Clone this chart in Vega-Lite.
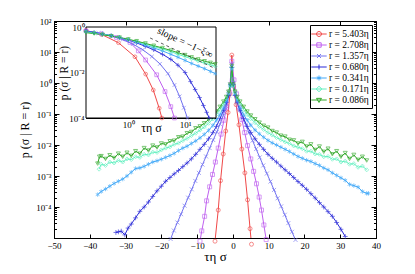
{
  "$schema": "https://vega.github.io/schema/vega-lite/v6.json",
  "autosize": "none",
  "padding": {"left": 54, "top": 21, "right": 39, "bottom": 36},
  "width": 322,
  "height": 217,
  "config": {
    "font": "Liberation Serif",
    "view": {"stroke": "black", "strokeWidth": 1},
    "axis": {"grid": false, "domainColor": "black", "tickColor": "black", "labelColor": "black", "titleColor": "black",
      "labelFont": "Liberation Serif", "titleFont": "Liberation Serif", "labelFontSize": 9, "titleFontSize": 12,
      "titleFontWeight": "normal", "labelOverlap": false, "labelFlush": false},
    "point": {"filled": false, "size": 16, "strokeWidth": 0.9, "clip": true}
  },
  "datasets": {
    "main": [
      {"r": "r = 5.403η", "x": -5.0, "p": 7.9e-6}, {"r": "r = 5.403η", "x": -4.1, "p": 7.94e-5}, {"r": "r = 5.403η", "x": -3.45, "p": 7.08e-4}, {"r": "r = 5.403η", "x": -2.7, "p": 5.13e-3}, {"r": "r = 5.403η", "x": -2.0, "p": 0.0282}, {"r": "r = 5.403η", "x": -1.35, "p": 0.112}, {"r": "r = 5.403η", "x": -0.8, "p": 0.447}, {"r": "r = 5.403η", "x": -0.3, "p": 7.94}, {"r": "r = 5.403η", "x": 0.2, "p": 0.794}, {"r": "r = 5.403η", "x": 0.9, "p": 0.2}, {"r": "r = 5.403η", "x": 1.7, "p": 0.0447}, {"r": "r = 5.403η", "x": 2.5, "p": 7.41e-3}, {"r": "r = 5.403η", "x": 3.35, "p": 1.26e-3}, {"r": "r = 5.403η", "x": 4.1, "p": 1.7e-4}, {"r": "r = 5.403η", "x": 4.8, "p": 2.0e-5}, {"r": "r = 5.403η", "x": 5.2, "p": 6.3e-6},

      {"r": "r = 2.708η", "x": -9.2, "p": 7.9e-6}, {"r": "r = 2.708η", "x": -8.7, "p": 1.7e-5}, {"r": "r = 2.708η", "x": -7.9, "p": 5.0e-5}, {"r": "r = 2.708η", "x": -7.35, "p": 1.58e-4}, {"r": "r = 2.708η", "x": -6.5, "p": 4.47e-4}, {"r": "r = 2.708η", "x": -5.7, "p": 1.12e-3}, {"r": "r = 2.708η", "x": -4.9, "p": 2.82e-3}, {"r": "r = 2.708η", "x": -4.1, "p": 7.94e-3}, {"r": "r = 2.708η", "x": -3.3, "p": 0.0224}, {"r": "r = 2.708η", "x": -2.5, "p": 0.0631}, {"r": "r = 2.708η", "x": -1.7, "p": 0.166}, {"r": "r = 2.708η", "x": -1.0, "p": 0.501}, {"r": "r = 2.708η", "x": -0.3, "p": 5.01}, {"r": "r = 2.708η", "x": 0.3, "p": 1.26}, {"r": "r = 2.708η", "x": 1.0, "p": 0.447}, {"r": "r = 2.708η", "x": 1.7, "p": 0.166}, {"r": "r = 2.708η", "x": 2.5, "p": 0.0661}, {"r": "r = 2.708η", "x": 3.3, "p": 0.0251}, {"r": "r = 2.708η", "x": 4.1, "p": 9.55e-3}, {"r": "r = 2.708η", "x": 5.0, "p": 3.55e-3}, {"r": "r = 2.708η", "x": 5.8, "p": 1.41e-3}, {"r": "r = 2.708η", "x": 6.6, "p": 5.62e-4}, {"r": "r = 2.708η", "x": 7.35, "p": 2.09e-4}, {"r": "r = 2.708η", "x": 8.0, "p": 7.94e-5}, {"r": "r = 2.708η", "x": 8.66, "p": 2.63e-5}, {"r": "r = 2.708η", "x": 9.3, "p": 8.9e-6},

      {"r": "r = 1.357η", "x": -17.4, "p": 9.3e-6}, {"r": "r = 1.357η", "x": -16.5, "p": 1.74e-5}, {"r": "r = 1.357η", "x": -15.5, "p": 3.16e-5}, {"r": "r = 1.357η", "x": -14.5, "p": 5.89e-5}, {"r": "r = 1.357η", "x": -13.5, "p": 1.1e-4}, {"r": "r = 1.357η", "x": -12.5, "p": 2.0e-4}, {"r": "r = 1.357η", "x": -11.5, "p": 3.72e-4}, {"r": "r = 1.357η", "x": -10.5, "p": 6.92e-4}, {"r": "r = 1.357η", "x": -9.5, "p": 1.26e-3}, {"r": "r = 1.357η", "x": -8.5, "p": 2.34e-3}, {"r": "r = 1.357η", "x": -7.5, "p": 4.27e-3}, {"r": "r = 1.357η", "x": -6.5, "p": 7.94e-3}, {"r": "r = 1.357η", "x": -5.5, "p": 0.0145}, {"r": "r = 1.357η", "x": -4.5, "p": 0.0263}, {"r": "r = 1.357η", "x": -3.6, "p": 0.0468}, {"r": "r = 1.357η", "x": -2.7, "p": 0.0891}, {"r": "r = 1.357η", "x": -1.9, "p": 0.178}, {"r": "r = 1.357η", "x": -1.1, "p": 0.398}, {"r": "r = 1.357η", "x": -0.7, "p": 0.891}, {"r": "r = 1.357η", "x": -0.3, "p": 3.98}, {"r": "r = 1.357η", "x": 0.1, "p": 1.0}, {"r": "r = 1.357η", "x": 0.6, "p": 0.447}, {"r": "r = 1.357η", "x": 1.2, "p": 0.24}, {"r": "r = 1.357η", "x": 1.9, "p": 0.132}, {"r": "r = 1.357η", "x": 2.7, "p": 0.0794}, {"r": "r = 1.357η", "x": 3.6, "p": 0.0447}, {"r": "r = 1.357η", "x": 4.5, "p": 0.0251}, {"r": "r = 1.357η", "x": 5.5, "p": 0.0138}, {"r": "r = 1.357η", "x": 6.5, "p": 7.41e-3}, {"r": "r = 1.357η", "x": 7.5, "p": 3.98e-3}, {"r": "r = 1.357η", "x": 8.5, "p": 2.19e-3}, {"r": "r = 1.357η", "x": 9.5, "p": 1.2e-3}, {"r": "r = 1.357η", "x": 10.5, "p": 6.61e-4}, {"r": "r = 1.357η", "x": 11.5, "p": 3.55e-4}, {"r": "r = 1.357η", "x": 12.5, "p": 1.91e-4}, {"r": "r = 1.357η", "x": 13.5, "p": 1.05e-4}, {"r": "r = 1.357η", "x": 14.5, "p": 5.62e-5}, {"r": "r = 1.357η", "x": 15.5, "p": 3.02e-5}, {"r": "r = 1.357η", "x": 16.5, "p": 1.58e-5}, {"r": "r = 1.357η", "x": 17.5, "p": 8.7e-6},

      {"r": "r = 0.680η", "x": -32.7, "p": 1.51e-5}, {"r": "r = 0.680η", "x": -32.0, "p": 1.58e-5}, {"r": "r = 0.680η", "x": -31.2, "p": 1.66e-5}, {"r": "r = 0.680η", "x": -30.2, "p": 1.26e-5}, {"r": "r = 0.680η", "x": -29.3, "p": 2.09e-5}, {"r": "r = 0.680η", "x": -28.4, "p": 2.82e-5}, {"r": "r = 0.680η", "x": -27.2, "p": 4.47e-5}, {"r": "r = 0.680η", "x": -26.0, "p": 7.24e-5}, {"r": "r = 0.680η", "x": -24.8, "p": 1.0e-4}, {"r": "r = 0.680η", "x": -23.6, "p": 1.45e-4}, {"r": "r = 0.680η", "x": -22.4, "p": 2.19e-4}, {"r": "r = 0.680η", "x": -21.2, "p": 3.31e-4}, {"r": "r = 0.680η", "x": -20.0, "p": 4.68e-4}, {"r": "r = 0.680η", "x": -18.8, "p": 6.76e-4}, {"r": "r = 0.680η", "x": -17.6, "p": 8.91e-4}, {"r": "r = 0.680η", "x": -16.4, "p": 1.17e-3}, {"r": "r = 0.680η", "x": -15.2, "p": 1.51e-3}, {"r": "r = 0.680η", "x": -14.0, "p": 2.0e-3}, {"r": "r = 0.680η", "x": -12.8, "p": 2.63e-3}, {"r": "r = 0.680η", "x": -11.6, "p": 3.55e-3}, {"r": "r = 0.680η", "x": -10.4, "p": 5.01e-3}, {"r": "r = 0.680η", "x": -9.2, "p": 7.24e-3}, {"r": "r = 0.680η", "x": -8.0, "p": 0.0105}, {"r": "r = 0.680η", "x": -6.8, "p": 0.0158}, {"r": "r = 0.680η", "x": -5.6, "p": 0.0251}, {"r": "r = 0.680η", "x": -4.6, "p": 0.0398}, {"r": "r = 0.680η", "x": -3.6, "p": 0.0708}, {"r": "r = 0.680η", "x": -2.6, "p": 0.132}, {"r": "r = 0.680η", "x": -1.8, "p": 0.24}, {"r": "r = 0.680η", "x": -1.2, "p": 0.398}, {"r": "r = 0.680η", "x": -0.7, "p": 0.891}, {"r": "r = 0.680η", "x": -0.3, "p": 3.16}, {"r": "r = 0.680η", "x": 0.1, "p": 0.891}, {"r": "r = 0.680η", "x": 0.6, "p": 0.398}, {"r": "r = 0.680η", "x": 1.2, "p": 0.24}, {"r": "r = 0.680η", "x": 2.0, "p": 0.132}, {"r": "r = 0.680η", "x": 3.0, "p": 0.0708}, {"r": "r = 0.680η", "x": 4.0, "p": 0.0398}, {"r": "r = 0.680η", "x": 5.0, "p": 0.0251}, {"r": "r = 0.680η", "x": 6.2, "p": 0.0158}, {"r": "r = 0.680η", "x": 7.4, "p": 0.0105}, {"r": "r = 0.680η", "x": 8.6, "p": 7.24e-3}, {"r": "r = 0.680η", "x": 9.8, "p": 5.01e-3}, {"r": "r = 0.680η", "x": 11.0, "p": 3.72e-3}, {"r": "r = 0.680η", "x": 12.2, "p": 2.82e-3}, {"r": "r = 0.680η", "x": 13.4, "p": 2.09e-3}, {"r": "r = 0.680η", "x": 14.6, "p": 1.58e-3}, {"r": "r = 0.680η", "x": 15.8, "p": 1.2e-3}, {"r": "r = 0.680η", "x": 17.0, "p": 8.91e-4}, {"r": "r = 0.680η", "x": 18.2, "p": 6.61e-4}, {"r": "r = 0.680η", "x": 19.4, "p": 5.01e-4}, {"r": "r = 0.680η", "x": 20.6, "p": 3.72e-4}, {"r": "r = 0.680η", "x": 21.8, "p": 2.69e-4}, {"r": "r = 0.680η", "x": 23.0, "p": 1.95e-4}, {"r": "r = 0.680η", "x": 24.2, "p": 1.38e-4}, {"r": "r = 0.680η", "x": 25.4, "p": 1.0e-4}, {"r": "r = 0.680η", "x": 26.6, "p": 7.08e-5}, {"r": "r = 0.680η", "x": 27.8, "p": 5.01e-5}, {"r": "r = 0.680η", "x": 29.0, "p": 3.16e-5}, {"r": "r = 0.680η", "x": 30.2, "p": 1.91e-5}, {"r": "r = 0.680η", "x": 31.4, "p": 1.12e-5},

      {"r": "r = 0.341η", "x": -37.8, "p": 2.51e-4}, {"r": "r = 0.341η", "x": -36.8, "p": 3.16e-4}, {"r": "r = 0.341η", "x": -35.6, "p": 3.8e-4}, {"r": "r = 0.341η", "x": -34.4, "p": 4.68e-4}, {"r": "r = 0.341η", "x": -33.2, "p": 5.75e-4}, {"r": "r = 0.341η", "x": -32.0, "p": 6.76e-4}, {"r": "r = 0.341η", "x": -30.8, "p": 7.94e-4}, {"r": "r = 0.341η", "x": -29.6, "p": 1.0e-3}, {"r": "r = 0.341η", "x": -28.4, "p": 1.32e-3}, {"r": "r = 0.341η", "x": -27.2, "p": 1.74e-3}, {"r": "r = 0.341η", "x": -26.0, "p": 1.82e-3}, {"r": "r = 0.341η", "x": -24.8, "p": 2.04e-3}, {"r": "r = 0.341η", "x": -23.6, "p": 2.4e-3}, {"r": "r = 0.341η", "x": -22.4, "p": 2.82e-3}, {"r": "r = 0.341η", "x": -21.2, "p": 3.09e-3}, {"r": "r = 0.341η", "x": -20.0, "p": 3.47e-3}, {"r": "r = 0.341η", "x": -18.8, "p": 3.98e-3}, {"r": "r = 0.341η", "x": -17.6, "p": 4.57e-3}, {"r": "r = 0.341η", "x": -16.4, "p": 5.37e-3}, {"r": "r = 0.341η", "x": -15.2, "p": 6.61e-3}, {"r": "r = 0.341η", "x": -14.0, "p": 7.94e-3}, {"r": "r = 0.341η", "x": -12.8, "p": 9.12e-3}, {"r": "r = 0.341η", "x": -11.6, "p": 0.0112}, {"r": "r = 0.341η", "x": -10.4, "p": 0.0135}, {"r": "r = 0.341η", "x": -9.2, "p": 0.017}, {"r": "r = 0.341η", "x": -8.0, "p": 0.0219}, {"r": "r = 0.341η", "x": -6.8, "p": 0.0295}, {"r": "r = 0.341η", "x": -5.6, "p": 0.0427}, {"r": "r = 0.341η", "x": -4.6, "p": 0.0631}, {"r": "r = 0.341η", "x": -3.6, "p": 0.0955}, {"r": "r = 0.341η", "x": -2.6, "p": 0.158}, {"r": "r = 0.341η", "x": -1.8, "p": 0.263}, {"r": "r = 0.341η", "x": -1.2, "p": 0.447}, {"r": "r = 0.341η", "x": -0.7, "p": 0.794}, {"r": "r = 0.341η", "x": -0.3, "p": 2.82}, {"r": "r = 0.341η", "x": 0.1, "p": 0.794}, {"r": "r = 0.341η", "x": 0.6, "p": 0.447}, {"r": "r = 0.341η", "x": 1.2, "p": 0.263}, {"r": "r = 0.341η", "x": 2.0, "p": 0.158}, {"r": "r = 0.341η", "x": 3.0, "p": 0.0955}, {"r": "r = 0.341η", "x": 4.0, "p": 0.0631}, {"r": "r = 0.341η", "x": 5.0, "p": 0.0437}, {"r": "r = 0.341η", "x": 6.2, "p": 0.0302}, {"r": "r = 0.341η", "x": 7.4, "p": 0.0229}, {"r": "r = 0.341η", "x": 8.6, "p": 0.0178}, {"r": "r = 0.341η", "x": 9.8, "p": 0.0141}, {"r": "r = 0.341η", "x": 11.0, "p": 0.0117}, {"r": "r = 0.341η", "x": 12.2, "p": 0.01}, {"r": "r = 0.341η", "x": 13.4, "p": 8.51e-3}, {"r": "r = 0.341η", "x": 14.6, "p": 7.24e-3}, {"r": "r = 0.341η", "x": 15.8, "p": 6.17e-3}, {"r": "r = 0.341η", "x": 17.0, "p": 5.13e-3}, {"r": "r = 0.341η", "x": 18.2, "p": 4.27e-3}, {"r": "r = 0.341η", "x": 19.4, "p": 3.72e-3}, {"r": "r = 0.341η", "x": 20.6, "p": 3.24e-3}, {"r": "r = 0.341η", "x": 21.8, "p": 2.95e-3}, {"r": "r = 0.341η", "x": 23.0, "p": 2.51e-3}, {"r": "r = 0.341η", "x": 24.2, "p": 2.19e-3}, {"r": "r = 0.341η", "x": 25.4, "p": 1.82e-3}, {"r": "r = 0.341η", "x": 26.6, "p": 1.58e-3}, {"r": "r = 0.341η", "x": 27.8, "p": 1.26e-3}, {"r": "r = 0.341η", "x": 29.0, "p": 1.05e-3}, {"r": "r = 0.341η", "x": 30.2, "p": 8.71e-4}, {"r": "r = 0.341η", "x": 31.4, "p": 7.24e-4}, {"r": "r = 0.341η", "x": 32.6, "p": 5.37e-4}, {"r": "r = 0.341η", "x": 33.8, "p": 4.9e-4}, {"r": "r = 0.341η", "x": 35.0, "p": 4.37e-4}, {"r": "r = 0.341η", "x": 36.2, "p": 3.16e-4}, {"r": "r = 0.341η", "x": 37.4, "p": 2.75e-4}, {"r": "r = 0.341η", "x": 37.9, "p": 2.75e-4},

      {"r": "r = 0.171η", "x": -37.4, "p": 1.66e-3}, {"r": "r = 0.171η", "x": -36.8, "p": 2.4e-3}, {"r": "r = 0.171η", "x": -35.6, "p": 2.19e-3}, {"r": "r = 0.171η", "x": -34.4, "p": 2.82e-3}, {"r": "r = 0.171η", "x": -33.2, "p": 2.63e-3}, {"r": "r = 0.171η", "x": -32.0, "p": 3.16e-3}, {"r": "r = 0.171η", "x": -30.8, "p": 2.82e-3}, {"r": "r = 0.171η", "x": -29.6, "p": 3.55e-3}, {"r": "r = 0.171η", "x": -28.4, "p": 3.39e-3}, {"r": "r = 0.171η", "x": -27.2, "p": 4.17e-3}, {"r": "r = 0.171η", "x": -26.0, "p": 3.98e-3}, {"r": "r = 0.171η", "x": -24.8, "p": 5.01e-3}, {"r": "r = 0.171η", "x": -23.6, "p": 4.79e-3}, {"r": "r = 0.171η", "x": -22.4, "p": 5.89e-3}, {"r": "r = 0.171η", "x": -21.2, "p": 5.75e-3}, {"r": "r = 0.171η", "x": -20.0, "p": 6.92e-3}, {"r": "r = 0.171η", "x": -18.8, "p": 7.94e-3}, {"r": "r = 0.171η", "x": -17.6, "p": 8.71e-3}, {"r": "r = 0.171η", "x": -16.4, "p": 0.0105}, {"r": "r = 0.171η", "x": -15.2, "p": 0.0115}, {"r": "r = 0.171η", "x": -14.0, "p": 0.0138}, {"r": "r = 0.171η", "x": -12.8, "p": 0.0162}, {"r": "r = 0.171η", "x": -11.6, "p": 0.02}, {"r": "r = 0.171η", "x": -10.4, "p": 0.024}, {"r": "r = 0.171η", "x": -9.2, "p": 0.0302}, {"r": "r = 0.171η", "x": -8.0, "p": 0.038}, {"r": "r = 0.171η", "x": -6.8, "p": 0.0501}, {"r": "r = 0.171η", "x": -5.6, "p": 0.0692}, {"r": "r = 0.171η", "x": -4.6, "p": 0.0955}, {"r": "r = 0.171η", "x": -3.6, "p": 0.138}, {"r": "r = 0.171η", "x": -2.6, "p": 0.209}, {"r": "r = 0.171η", "x": -1.8, "p": 0.316}, {"r": "r = 0.171η", "x": -1.2, "p": 0.501}, {"r": "r = 0.171η", "x": -0.7, "p": 0.832}, {"r": "r = 0.171η", "x": -0.3, "p": 3.16}, {"r": "r = 0.171η", "x": 0.1, "p": 0.832}, {"r": "r = 0.171η", "x": 0.6, "p": 0.501}, {"r": "r = 0.171η", "x": 1.2, "p": 0.316}, {"r": "r = 0.171η", "x": 2.0, "p": 0.209}, {"r": "r = 0.171η", "x": 3.0, "p": 0.138}, {"r": "r = 0.171η", "x": 4.0, "p": 0.0955}, {"r": "r = 0.171η", "x": 5.0, "p": 0.0708}, {"r": "r = 0.171η", "x": 6.2, "p": 0.0525}, {"r": "r = 0.171η", "x": 7.4, "p": 0.0398}, {"r": "r = 0.171η", "x": 8.6, "p": 0.0316}, {"r": "r = 0.171η", "x": 9.8, "p": 0.0251}, {"r": "r = 0.171η", "x": 11.0, "p": 0.0209}, {"r": "r = 0.171η", "x": 12.2, "p": 0.0174}, {"r": "r = 0.171η", "x": 13.4, "p": 0.0148}, {"r": "r = 0.171η", "x": 14.6, "p": 0.0126}, {"r": "r = 0.171η", "x": 15.8, "p": 0.0112}, {"r": "r = 0.171η", "x": 17.0, "p": 9.33e-3}, {"r": "r = 0.171η", "x": 18.2, "p": 8.51e-3}, {"r": "r = 0.171η", "x": 19.4, "p": 7.59e-3}, {"r": "r = 0.171η", "x": 20.6, "p": 6.31e-3}, {"r": "r = 0.171η", "x": 21.8, "p": 6.31e-3}, {"r": "r = 0.171η", "x": 23.0, "p": 5.13e-3}, {"r": "r = 0.171η", "x": 24.2, "p": 5.01e-3}, {"r": "r = 0.171η", "x": 25.4, "p": 4.17e-3}, {"r": "r = 0.171η", "x": 26.6, "p": 4.27e-3}, {"r": "r = 0.171η", "x": 27.8, "p": 3.47e-3}, {"r": "r = 0.171η", "x": 29.0, "p": 3.55e-3}, {"r": "r = 0.171η", "x": 30.2, "p": 2.82e-3}, {"r": "r = 0.171η", "x": 31.4, "p": 3.02e-3}, {"r": "r = 0.171η", "x": 32.6, "p": 2.4e-3}, {"r": "r = 0.171η", "x": 33.8, "p": 2.51e-3}, {"r": "r = 0.171η", "x": 35.0, "p": 1.91e-3}, {"r": "r = 0.171η", "x": 36.2, "p": 2.09e-3}, {"r": "r = 0.171η", "x": 37.4, "p": 1.58e-3},

      {"r": "r = 0.086η", "x": -37.8, "p": 2.51e-3}, {"r": "r = 0.086η", "x": -37.3, "p": 4.17e-3}, {"r": "r = 0.086η", "x": -36.8, "p": 4.37e-3}, {"r": "r = 0.086η", "x": -35.6, "p": 3.55e-3}, {"r": "r = 0.086η", "x": -34.4, "p": 4.68e-3}, {"r": "r = 0.086η", "x": -33.2, "p": 3.8e-3}, {"r": "r = 0.086η", "x": -32.0, "p": 5.25e-3}, {"r": "r = 0.086η", "x": -30.8, "p": 4.17e-3}, {"r": "r = 0.086η", "x": -29.6, "p": 5.62e-3}, {"r": "r = 0.086η", "x": -28.4, "p": 4.47e-3}, {"r": "r = 0.086η", "x": -27.2, "p": 6.31e-3}, {"r": "r = 0.086η", "x": -26.0, "p": 5.25e-3}, {"r": "r = 0.086η", "x": -24.8, "p": 7.94e-3}, {"r": "r = 0.086η", "x": -23.6, "p": 6.61e-3}, {"r": "r = 0.086η", "x": -22.4, "p": 9.55e-3}, {"r": "r = 0.086η", "x": -21.2, "p": 8.32e-3}, {"r": "r = 0.086η", "x": -20.0, "p": 0.0112}, {"r": "r = 0.086η", "x": -18.8, "p": 0.0105}, {"r": "r = 0.086η", "x": -17.6, "p": 0.0132}, {"r": "r = 0.086η", "x": -16.4, "p": 0.0138}, {"r": "r = 0.086η", "x": -15.2, "p": 0.0178}, {"r": "r = 0.086η", "x": -14.0, "p": 0.0186}, {"r": "r = 0.086η", "x": -12.8, "p": 0.024}, {"r": "r = 0.086η", "x": -11.6, "p": 0.0263}, {"r": "r = 0.086η", "x": -10.4, "p": 0.0347}, {"r": "r = 0.086η", "x": -9.2, "p": 0.0398}, {"r": "r = 0.086η", "x": -8.0, "p": 0.0501}, {"r": "r = 0.086η", "x": -6.8, "p": 0.0661}, {"r": "r = 0.086η", "x": -5.6, "p": 0.0871}, {"r": "r = 0.086η", "x": -4.6, "p": 0.12}, {"r": "r = 0.086η", "x": -3.6, "p": 0.17}, {"r": "r = 0.086η", "x": -2.6, "p": 0.251}, {"r": "r = 0.086η", "x": -1.8, "p": 0.355}, {"r": "r = 0.086η", "x": -1.2, "p": 0.525}, {"r": "r = 0.086η", "x": -0.7, "p": 0.891}, {"r": "r = 0.086η", "x": -0.3, "p": 3.55}, {"r": "r = 0.086η", "x": 0.1, "p": 0.891}, {"r": "r = 0.086η", "x": 0.6, "p": 0.525}, {"r": "r = 0.086η", "x": 1.2, "p": 0.355}, {"r": "r = 0.086η", "x": 2.0, "p": 0.251}, {"r": "r = 0.086η", "x": 3.0, "p": 0.17}, {"r": "r = 0.086η", "x": 4.0, "p": 0.12}, {"r": "r = 0.086η", "x": 5.0, "p": 0.0891}, {"r": "r = 0.086η", "x": 6.2, "p": 0.0676}, {"r": "r = 0.086η", "x": 7.4, "p": 0.0525}, {"r": "r = 0.086η", "x": 8.6, "p": 0.0417}, {"r": "r = 0.086η", "x": 9.8, "p": 0.0363}, {"r": "r = 0.086η", "x": 11.0, "p": 0.0282}, {"r": "r = 0.086η", "x": 12.2, "p": 0.0251}, {"r": "r = 0.086η", "x": 13.4, "p": 0.02}, {"r": "r = 0.086η", "x": 14.6, "p": 0.0186}, {"r": "r = 0.086η", "x": 15.8, "p": 0.0148}, {"r": "r = 0.086η", "x": 17.0, "p": 0.0141}, {"r": "r = 0.086η", "x": 18.2, "p": 0.0112}, {"r": "r = 0.086η", "x": 19.4, "p": 0.0126}, {"r": "r = 0.086η", "x": 20.6, "p": 8.91e-3}, {"r": "r = 0.086η", "x": 21.8, "p": 0.0105}, {"r": "r = 0.086η", "x": 23.0, "p": 6.92e-3}, {"r": "r = 0.086η", "x": 24.2, "p": 8.91e-3}, {"r": "r = 0.086η", "x": 25.4, "p": 6.03e-3}, {"r": "r = 0.086η", "x": 26.6, "p": 7.59e-3}, {"r": "r = 0.086η", "x": 27.8, "p": 5.01e-3}, {"r": "r = 0.086η", "x": 29.0, "p": 6.31e-3}, {"r": "r = 0.086η", "x": 30.2, "p": 4.17e-3}, {"r": "r = 0.086η", "x": 31.4, "p": 5.5e-3}, {"r": "r = 0.086η", "x": 32.6, "p": 3.55e-3}, {"r": "r = 0.086η", "x": 33.8, "p": 4.79e-3}, {"r": "r = 0.086η", "x": 35.0, "p": 3.31e-3}, {"r": "r = 0.086η", "x": 36.2, "p": 4.17e-3}, {"r": "r = 0.086η", "x": 37.4, "p": 3.16e-3}
    ],
    "inset": [
      {"r": "r = 5.403η", "x": 0.18, "p": 0.708}, {"r": "r = 5.403η", "x": 0.34, "p": 0.468}, {"r": "r = 5.403η", "x": 0.67, "p": 0.204}, {"r": "r = 5.403η", "x": 1.31, "p": 0.049}, {"r": "r = 5.403η", "x": 2.02, "p": 8.51e-3}, {"r": "r = 5.403η", "x": 2.75, "p": 1.7e-3}, {"r": "r = 5.403η", "x": 3.5, "p": 2.69e-4}, {"r": "r = 5.403η", "x": 3.9, "p": 1.0e-4},
      {"r": "r = 2.708η", "x": 0.18, "p": 0.676}, {"r": "r = 2.708η", "x": 0.34, "p": 0.501}, {"r": "r = 2.708η", "x": 0.62, "p": 0.347}, {"r": "r = 2.708η", "x": 1.07, "p": 0.209}, {"r": "r = 2.708η", "x": 1.5, "p": 0.0891}, {"r": "r = 2.708η", "x": 2.02, "p": 0.0355}, {"r": "r = 2.708η", "x": 3.16, "p": 7.94e-3}, {"r": "r = 2.708η", "x": 4.43, "p": 1.45e-3}, {"r": "r = 2.708η", "x": 5.6, "p": 3.16e-4}, {"r": "r = 2.708η", "x": 6.5, "p": 1.0e-4},
      {"r": "r = 1.357η", "x": 0.18, "p": 0.661}, {"r": "r = 1.357η", "x": 0.3, "p": 0.537}, {"r": "r = 1.357η", "x": 0.5, "p": 0.398}, {"r": "r = 1.357η", "x": 0.8, "p": 0.282}, {"r": "r = 1.357η", "x": 1.2, "p": 0.178}, {"r": "r = 1.357η", "x": 1.8, "p": 0.1}, {"r": "r = 1.357η", "x": 2.6, "p": 0.0501}, {"r": "r = 1.357η", "x": 3.6, "p": 0.024}, {"r": "r = 1.357η", "x": 5.0, "p": 8.91e-3}, {"r": "r = 1.357η", "x": 6.5, "p": 2.82e-3}, {"r": "r = 1.357η", "x": 8.0, "p": 8.91e-4}, {"r": "r = 1.357η", "x": 9.5, "p": 2.82e-4}, {"r": "r = 1.357η", "x": 11.0, "p": 1.0e-4},
      {"r": "r = 0.680η", "x": 0.18, "p": 0.661}, {"r": "r = 0.680η", "x": 0.25, "p": 0.575}, {"r": "r = 0.680η", "x": 0.35, "p": 0.501}, {"r": "r = 0.680η", "x": 0.5, "p": 0.417}, {"r": "r = 0.680η", "x": 0.7, "p": 0.339}, {"r": "r = 0.680η", "x": 1.0, "p": 0.263}, {"r": "r = 0.680η", "x": 1.4, "p": 0.2}, {"r": "r = 0.680η", "x": 2.0, "p": 0.141}, {"r": "r = 0.680η", "x": 2.8, "p": 0.1}, {"r": "r = 0.680η", "x": 4.0, "p": 0.0631}, {"r": "r = 0.680η", "x": 5.6, "p": 0.038}, {"r": "r = 0.680η", "x": 7.5, "p": 0.0209}, {"r": "r = 0.680η", "x": 10.0, "p": 0.01}, {"r": "r = 0.680η", "x": 12.5, "p": 3.98e-3}, {"r": "r = 0.680η", "x": 15.0, "p": 1.78e-3}, {"r": "r = 0.680η", "x": 18.0, "p": 7.94e-4}, {"r": "r = 0.680η", "x": 21.0, "p": 3.55e-4}, {"r": "r = 0.680η", "x": 24.0, "p": 1.78e-4}, {"r": "r = 0.680η", "x": 26.5, "p": 1.0e-4},
      {"r": "r = 0.341η", "x": 0.18, "p": 0.631}, {"r": "r = 0.341η", "x": 0.25, "p": 0.562}, {"r": "r = 0.341η", "x": 0.35, "p": 0.49}, {"r": "r = 0.341η", "x": 0.5, "p": 0.417}, {"r": "r = 0.341η", "x": 0.7, "p": 0.347}, {"r": "r = 0.341η", "x": 1.0, "p": 0.275}, {"r": "r = 0.341η", "x": 1.4, "p": 0.214}, {"r": "r = 0.341η", "x": 2.0, "p": 0.158}, {"r": "r = 0.341η", "x": 2.8, "p": 0.12}, {"r": "r = 0.341η", "x": 4.0, "p": 0.0891}, {"r": "r = 0.341η", "x": 5.6, "p": 0.0631}, {"r": "r = 0.341η", "x": 7.5, "p": 0.0468}, {"r": "r = 0.341η", "x": 10.0, "p": 0.0339}, {"r": "r = 0.341η", "x": 13.0, "p": 0.0251}, {"r": "r = 0.341η", "x": 17.0, "p": 0.0191}, {"r": "r = 0.341η", "x": 22.0, "p": 0.0148}, {"r": "r = 0.341η", "x": 28.0, "p": 0.0112}, {"r": "r = 0.341η", "x": 34.0, "p": 8.91e-3},
      {"r": "r = 0.171η", "x": 0.18, "p": 0.603}, {"r": "r = 0.171η", "x": 0.25, "p": 0.537}, {"r": "r = 0.171η", "x": 0.35, "p": 0.479}, {"r": "r = 0.171η", "x": 0.5, "p": 0.407}, {"r": "r = 0.171η", "x": 0.7, "p": 0.347}, {"r": "r = 0.171η", "x": 1.0, "p": 0.282}, {"r": "r = 0.171η", "x": 1.4, "p": 0.229}, {"r": "r = 0.171η", "x": 2.0, "p": 0.178}, {"r": "r = 0.171η", "x": 2.8, "p": 0.138}, {"r": "r = 0.171η", "x": 4.0, "p": 0.107}, {"r": "r = 0.171η", "x": 5.6, "p": 0.0832}, {"r": "r = 0.171η", "x": 7.5, "p": 0.0631}, {"r": "r = 0.171η", "x": 10.0, "p": 0.0501}, {"r": "r = 0.171η", "x": 13.0, "p": 0.0398}, {"r": "r = 0.171η", "x": 17.0, "p": 0.0316}, {"r": "r = 0.171η", "x": 22.0, "p": 0.0263}, {"r": "r = 0.171η", "x": 28.0, "p": 0.0219}, {"r": "r = 0.171η", "x": 34.0, "p": 0.0186},
      {"r": "r = 0.086η", "x": 0.18, "p": 0.562}, {"r": "r = 0.086η", "x": 0.25, "p": 0.513}, {"r": "r = 0.086η", "x": 0.35, "p": 0.457}, {"r": "r = 0.086η", "x": 0.5, "p": 0.398}, {"r": "r = 0.086η", "x": 0.7, "p": 0.347}, {"r": "r = 0.086η", "x": 1.0, "p": 0.288}, {"r": "r = 0.086η", "x": 1.4, "p": 0.24}, {"r": "r = 0.086η", "x": 2.0, "p": 0.191}, {"r": "r = 0.086η", "x": 2.8, "p": 0.151}, {"r": "r = 0.086η", "x": 4.0, "p": 0.12}, {"r": "r = 0.086η", "x": 5.6, "p": 0.0933}, {"r": "r = 0.086η", "x": 7.5, "p": 0.0741}, {"r": "r = 0.086η", "x": 10.0, "p": 0.0589}, {"r": "r = 0.086η", "x": 13.0, "p": 0.0468}, {"r": "r = 0.086η", "x": 17.0, "p": 0.038}, {"r": "r = 0.086η", "x": 22.0, "p": 0.0316}, {"r": "r = 0.086η", "x": 28.0, "p": 0.0269}, {"r": "r = 0.086η", "x": 34.0, "p": 0.0234}
    ],
    "note": [{"label": "slope = −1−ξ∞", "x0": 2.42, "y0": 0.33, "x1": 32.3, "y1": 0.0158, "xt": 10, "yt": 0.2, "xa": 0.18, "xb": 35, "ya": 0.0001, "yb": 1}]
  },
  "layer": [
    {
      "data": {"name": "main"},
      "layer": [
        {
          "mark": {"type": "line", "clip": true, "strokeWidth": 1},
          "encoding": {
            "x": {"field": "x", "type": "quantitative", "scale": {"domain": [-50, 40], "nice": false, "zero": false},
              "axis": {"orient": "top", "values": [-50, -40, -30, -20, -10, 0, 10, 20, 30, 40], "tickSize": -4, "labels": false, "title": null}},
            "y": {"field": "p", "type": "quantitative", "scale": {"type": "log", "domain": [1e-5, 100], "nice": false},
              "axis": {"orient": "left", "title": "p (σ | R = r)", "titlePadding": 4, "labelOverlap": false,
                "values": [1e-5, 2e-5, 3e-5, 4e-5, 5e-5, 6e-5, 7e-5, 8e-5, 9e-5, 1e-4, 2e-4, 3e-4, 4e-4, 5e-4, 6e-4, 7e-4, 8e-4, 9e-4, 1e-3, 2e-3, 3e-3, 4e-3, 5e-3, 6e-3, 7e-3, 8e-3, 9e-3, 0.01, 0.02, 0.03, 0.04, 0.05, 0.06, 0.07, 0.08, 0.09, 0.1, 0.2, 0.3, 0.4, 0.5, 0.6, 0.7, 0.8, 0.9, 1, 2, 3, 4, 5, 6, 7, 8, 9, 10, 20, 30, 40, 50, 60, 70, 80, 90, 100],
                "tickSize": {"condition": {"test": "abs(log(datum.value)/LN10 - round(log(datum.value)/LN10)) < 0.01", "value": -5}, "value": -2.5},
                "labelPadding": 8,
                "labelExpr": "(abs(log(datum.value)/LN10 - round(log(datum.value)/LN10)) < 0.01 && round(log(datum.value)/LN10) > -5) ? ['10⁻⁴','10⁻³','10⁻²','10⁻¹','10⁰','10¹','10²'][round(log(datum.value)/LN10)+4] : ''"}},
            "color": {"field": "r", "type": "nominal",
              "scale": {"domain": ["r = 5.403η", "r = 2.708η", "r = 1.357η", "r = 0.680η", "r = 0.341η", "r = 0.171η", "r = 0.086η"],
                "range": ["#f04848", "#c060f0", "#7070f0", "#2828d8", "#40a8f8", "#60f0c0", "#30a828"]},
              "legend": {"title": null, "orient": "top-right", "offset": 4, "padding": 3, "strokeColor": "black", "fillColor": "white",
                "labelFont": "Liberation Serif", "labelFontSize": 9.5, "labelColor": "black", "symbolSize": 121, "rowPadding": 0, "labelOffset": 4,
                "symbolType": "stroke", "symbolStrokeWidth": 1,
                "encode": {"symbols": {"update": {
                  "shape": {"signal": "['M-1.4,0H1.4M0.45,0A0.45,0.45,0,1,1,-0.45,0A0.45,0.45,0,1,1,0.45,0','M-1.4,0H1.4M-0.4,-0.4H0.4V0.4H-0.4Z','M-1.4,0H1.4M-0.35,-0.35L0.35,0.35M-0.35,0.35L0.35,-0.35','M-1.4,0H1.4M0,-0.45V0.45','M-1.4,0H1.4M0,-0.45V0.45M-0.39,-0.22L0.39,0.22M-0.39,0.22L0.39,-0.22','M-1.4,0H1.4M0,-0.5L0.5,0L0,0.5L-0.5,0Z','M-1.4,0H1.4M-0.45,-0.3H0.45L0,0.45Z'][indexof(['r = 5.403η','r = 2.708η','r = 1.357η','r = 0.680η','r = 0.341η','r = 0.171η','r = 0.086η'], datum.value)]"},
                  "fill": {"value": "transparent"},
                  "strokeWidth": {"value": 1}}}}}}
          }
        },
        {"transform": [{"filter": {"field": "r", "equal": "r = 5.403η"}}], "mark": {"type": "point", "shape": "circle"}, "encoding": {"x": {"field": "x", "type": "quantitative"}, "y": {"field": "p", "type": "quantitative"}, "color": {"field": "r", "type": "nominal"}}},
        {"transform": [{"filter": {"field": "r", "equal": "r = 2.708η"}}], "mark": {"type": "point", "shape": "square"}, "encoding": {"x": {"field": "x", "type": "quantitative"}, "y": {"field": "p", "type": "quantitative"}, "color": {"field": "r", "type": "nominal"}}},
        {"transform": [{"filter": {"field": "r", "equal": "r = 1.357η"}}], "mark": {"type": "point", "shape": "M-1,-1L1,1M-1,1L1,-1"}, "encoding": {"x": {"field": "x", "type": "quantitative"}, "y": {"field": "p", "type": "quantitative"}, "color": {"field": "r", "type": "nominal"}}},
        {"transform": [{"filter": {"field": "r", "equal": "r = 0.680η"}}], "mark": {"type": "point", "shape": "M0,-1.2V1.2M-1.2,0H1.2"}, "encoding": {"x": {"field": "x", "type": "quantitative"}, "y": {"field": "p", "type": "quantitative"}, "color": {"field": "r", "type": "nominal"}}},
        {"transform": [{"filter": {"field": "r", "equal": "r = 0.341η"}}], "mark": {"type": "point", "shape": "M0,-1.1V1.1M-0.95,-0.55L0.95,0.55M-0.95,0.55L0.95,-0.55"}, "encoding": {"x": {"field": "x", "type": "quantitative"}, "y": {"field": "p", "type": "quantitative"}, "color": {"field": "r", "type": "nominal"}}},
        {"transform": [{"filter": {"field": "r", "equal": "r = 0.171η"}}], "mark": {"type": "point", "shape": "diamond"}, "encoding": {"x": {"field": "x", "type": "quantitative"}, "y": {"field": "p", "type": "quantitative"}, "color": {"field": "r", "type": "nominal"}}},
        {"transform": [{"filter": {"field": "r", "equal": "r = 0.086η"}}], "mark": {"type": "point", "shape": "triangle-down"}, "encoding": {"x": {"field": "x", "type": "quantitative"}, "y": {"field": "p", "type": "quantitative"}, "color": {"field": "r", "type": "nominal"}}}
      ]
    },
    {
      "data": {"name": "main"},
      "mark": {"type": "point", "opacity": 0},
      "encoding": {
        "x": {"field": "x", "type": "quantitative", "scale": {"domain": [-50, 40], "nice": false, "zero": false},
          "axis": {"orient": "bottom", "values": [-50, -40, -30, -20, -10, 0, 10, 20, 30, 40], "tickSize": -4, "labelPadding": 7, "labelOverlap": false, "labelBound": false, "labelFlush": false, "title": "τη σ", "titleFontSize": 13, "titlePadding": 0}},
        "y": {"field": "p", "type": "quantitative", "scale": {"type": "log", "domain": [1e-5, 100], "nice": false},
          "axis": {"orient": "right", "title": null, "labels": false,
            "values": [1e-5, 2e-5, 3e-5, 4e-5, 5e-5, 6e-5, 7e-5, 8e-5, 9e-5, 1e-4, 2e-4, 3e-4, 4e-4, 5e-4, 6e-4, 7e-4, 8e-4, 9e-4, 1e-3, 2e-3, 3e-3, 4e-3, 5e-3, 6e-3, 7e-3, 8e-3, 9e-3, 0.01, 0.02, 0.03, 0.04, 0.05, 0.06, 0.07, 0.08, 0.09, 0.1, 0.2, 0.3, 0.4, 0.5, 0.6, 0.7, 0.8, 0.9, 1, 2, 3, 4, 5, 6, 7, 8, 9, 10, 20, 30, 40, 50, 60, 70, 80, 90, 100],
            "tickSize": {"condition": {"test": "abs(log(datum.value)/LN10 - round(log(datum.value)/LN10)) < 0.01", "value": -5}, "value": -2.5}}}
      }
    },
    {
      "layer": [
        {
          "data": {"name": "note"},
          "mark": {"type": "rect", "fill": "white", "stroke": "black", "strokeWidth": 1},
          "encoding": {
            "x": {"field": "xa", "type": "quantitative", "scale": {"type": "log", "domain": [0.18, 35], "range": [32, 162], "nice": false},
              "axis": {"orient": "bottom", "offset": -120, "values": [0.2, 0.3, 0.4, 0.5, 0.6, 0.7, 0.8, 0.9, 1, 2, 3, 4, 5, 6, 7, 8, 9, 10, 20, 30],
                "tickSize": {"condition": {"test": "datum.value == 1 || datum.value == 10", "value": -4}, "value": -2},
                "labelPadding": 6, "labelOverlap": false, "labelFlush": false, "labelExpr": "datum.value == 1 ? '10⁰' : datum.value == 10 ? '10¹' : ''",
                "title": "τη σ", "titleFontSize": 12, "titleX": 97, "titleY": 9, "titleBaseline": "middle", "titleAlign": "center"}},
            "x2": {"field": "xb"},
            "y": {"field": "ya", "type": "quantitative", "scale": {"type": "log", "domain": [0.0001, 1], "range": [97, 6], "nice": false},
              "axis": {"orient": "left", "offset": -32, "values": [0.0001, 0.001, 0.01, 0.1, 1],
                "tickSize": -4, "labelAlign": "right", "labelOverlap": false,
                "labelPadding": 6, "labelExpr": "datum.value == 1 ? '10⁰' : datum.value == 0.01 ? '10⁻²' : datum.value == 0.0001 ? '10⁻⁴' : ''",
                "title": "p (σ | R = r)", "titleFontSize": 11.5, "titleX": -22, "titleY": 51.5, "titleAngle": -90, "titleAlign": "center", "titleBaseline": "middle"}},
            "y2": {"field": "yb"}
          }
        },
        {
          "data": {"name": "inset"},
          "mark": {"type": "line", "strokeWidth": 1},
          "encoding": {
            "x": {"field": "x", "type": "quantitative"},
            "y": {"field": "p", "type": "quantitative"},
            "color": {"field": "r", "type": "nominal"}
          }
        },
        {"data": {"name": "inset"}, "transform": [{"filter": {"field": "r", "equal": "r = 5.403η"}}], "mark": {"type": "point", "shape": "circle", "size": 14}, "encoding": {"x": {"field": "x", "type": "quantitative"}, "y": {"field": "p", "type": "quantitative"}, "color": {"field": "r", "type": "nominal"}}},
        {"data": {"name": "inset"}, "transform": [{"filter": {"field": "r", "equal": "r = 2.708η"}}], "mark": {"type": "point", "shape": "square", "size": 14}, "encoding": {"x": {"field": "x", "type": "quantitative"}, "y": {"field": "p", "type": "quantitative"}, "color": {"field": "r", "type": "nominal"}}},
        {"data": {"name": "inset"}, "transform": [{"filter": {"field": "r", "equal": "r = 1.357η"}}], "mark": {"type": "point", "shape": "M-1,-1L1,1M-1,1L1,-1", "size": 14}, "encoding": {"x": {"field": "x", "type": "quantitative"}, "y": {"field": "p", "type": "quantitative"}, "color": {"field": "r", "type": "nominal"}}},
        {"data": {"name": "inset"}, "transform": [{"filter": {"field": "r", "equal": "r = 0.680η"}}], "mark": {"type": "point", "shape": "M0,-1.2V1.2M-1.2,0H1.2", "size": 14}, "encoding": {"x": {"field": "x", "type": "quantitative"}, "y": {"field": "p", "type": "quantitative"}, "color": {"field": "r", "type": "nominal"}}},
        {"data": {"name": "inset"}, "transform": [{"filter": {"field": "r", "equal": "r = 0.341η"}}], "mark": {"type": "point", "shape": "M0,-1.1V1.1M-0.95,-0.55L0.95,0.55M-0.95,0.55L0.95,-0.55", "size": 14}, "encoding": {"x": {"field": "x", "type": "quantitative"}, "y": {"field": "p", "type": "quantitative"}, "color": {"field": "r", "type": "nominal"}}},
        {"data": {"name": "inset"}, "transform": [{"filter": {"field": "r", "equal": "r = 0.171η"}}], "mark": {"type": "point", "shape": "diamond", "size": 14}, "encoding": {"x": {"field": "x", "type": "quantitative"}, "y": {"field": "p", "type": "quantitative"}, "color": {"field": "r", "type": "nominal"}}},
        {"data": {"name": "inset"}, "transform": [{"filter": {"field": "r", "equal": "r = 0.086η"}}], "mark": {"type": "point", "shape": "triangle-down", "size": 14}, "encoding": {"x": {"field": "x", "type": "quantitative"}, "y": {"field": "p", "type": "quantitative"}, "color": {"field": "r", "type": "nominal"}}},
        {
          "data": {"name": "note"},
          "mark": {"type": "rule", "stroke": "#333333", "strokeWidth": 0.8, "strokeDash": [3, 3]},
          "encoding": {
            "x": {"field": "x0", "type": "quantitative"},
            "y": {"field": "y0", "type": "quantitative"},
            "x2": {"field": "x1"},
            "y2": {"field": "y1"}
          }
        },
        {
          "data": {"name": "note"},
          "mark": {"type": "text", "angle": 25, "fontSize": 10, "font": "Liberation Serif", "color": "black", "baseline": "middle"},
          "encoding": {
            "x": {"field": "xt", "type": "quantitative"},
            "y": {"field": "yt", "type": "quantitative"},
            "text": {"field": "label"}
          }
        }
      ]
    }
  ],
  "resolve": {"scale": {"x": "independent", "y": "independent"}}
}
